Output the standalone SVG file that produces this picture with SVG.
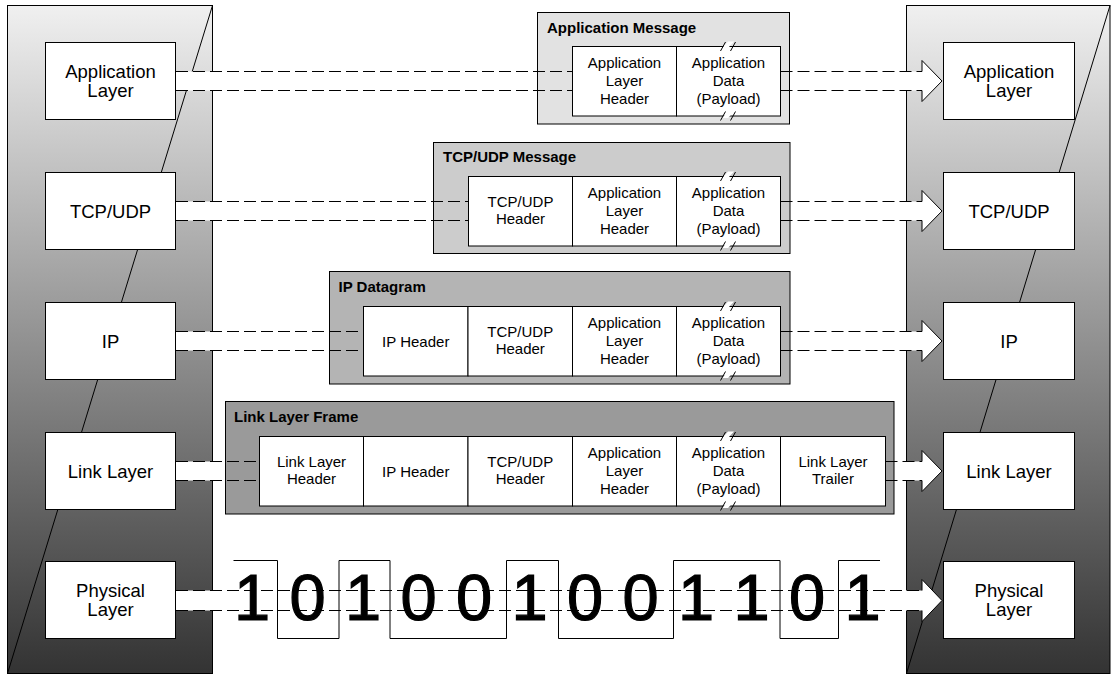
<svg xmlns="http://www.w3.org/2000/svg" width="1112" height="675" viewBox="0 0 1112 675">
  <defs>
    <linearGradient id="colGrad" x1="0" y1="0" x2="0" y2="1">
      <stop offset="0" stop-color="#f0f0f0"/>
      <stop offset="1" stop-color="#333333"/>
    </linearGradient>
    <style>
      .col{fill:url(#colGrad);stroke:#000;stroke-width:1}
      .diag{stroke:#000;stroke-width:1;fill:none}
      .box{fill:#fff;stroke:#000;stroke-width:1}
      .cell{fill:#fff;stroke:#000;stroke-width:1}
      .lbl{font-family:"Liberation Sans",Arial,sans-serif;font-size:18.5px;text-anchor:middle;fill:#000}
      .ct{font-family:"Liberation Sans",Arial,sans-serif;font-size:15px;text-anchor:middle;fill:#000}
      .ttl{font-family:"Liberation Sans",Arial,sans-serif;font-size:15px;font-weight:bold;fill:#000}
      .dash{stroke:#000;stroke-width:1;stroke-dasharray:12 5;fill:none}
      .head{fill:none;stroke:#000;stroke-width:1}
      .band{fill:#fff;stroke:none}
      .brk{stroke:#000;stroke-width:1;fill:none}
      .gap{fill:#fff;stroke:none}
      .bit{font-family:"Liberation Sans",Arial,sans-serif;font-size:65px;text-anchor:middle;fill:#000;stroke:#000;stroke-width:1.2}
      .wave{fill:none;stroke:#000;stroke-width:1}
    </style>
  </defs>

  <!-- stack columns -->
  <g id="left-stack">
    <rect class="col" x="7.5" y="5.5" width="205" height="668"/>
    <line class="diag" x1="212.5" y1="5.5" x2="7.5" y2="673.5"/>
  </g>
  <g id="right-stack">
    <rect class="col" x="906.5" y="5.5" width="203.5" height="668"/>
    <line class="diag" x1="1110" y1="5.5" x2="906.5" y2="673.5"/>
  </g>

  <!-- left layer nodes -->
  <g id="left-application">
    <rect class="box" x="45.5" y="42.5" width="130" height="77"/>
    <text class="lbl" x="110.5" y="78">Application</text>
    <text class="lbl" x="110.5" y="97">Layer</text>
  </g>
  <g id="left-tcpudp">
    <rect class="box" x="45.5" y="172.5" width="130" height="77"/>
    <text class="lbl" x="110.5" y="217.5">TCP/UDP</text>
  </g>
  <g id="left-ip">
    <rect class="box" x="45.5" y="302.5" width="130" height="77"/>
    <text class="lbl" x="110.5" y="347.5">IP</text>
  </g>
  <g id="left-link">
    <rect class="box" x="45.5" y="432.5" width="130" height="77"/>
    <text class="lbl" x="110.5" y="477.5">Link Layer</text>
  </g>
  <g id="left-physical">
    <rect class="box" x="45.5" y="561.5" width="130" height="77"/>
    <text class="lbl" x="110.5" y="597">Physical</text>
    <text class="lbl" x="110.5" y="616">Layer</text>
  </g>

  <!-- right layer nodes -->
  <g id="right-application">
    <rect class="box" x="943.5" y="42.5" width="131" height="77"/>
    <text class="lbl" x="1009" y="78">Application</text>
    <text class="lbl" x="1009" y="97">Layer</text>
  </g>
  <g id="right-tcpudp">
    <rect class="box" x="943.5" y="172.5" width="131" height="77"/>
    <text class="lbl" x="1009" y="217.5">TCP/UDP</text>
  </g>
  <g id="right-ip">
    <rect class="box" x="943.5" y="302.5" width="131" height="77"/>
    <text class="lbl" x="1009" y="347.5">IP</text>
  </g>
  <g id="right-link">
    <rect class="box" x="943.5" y="432.5" width="131" height="77"/>
    <text class="lbl" x="1009" y="477.5">Link Layer</text>
  </g>
  <g id="right-physical">
    <rect class="box" x="943.5" y="561.5" width="131" height="77"/>
    <text class="lbl" x="1009" y="597">Physical</text>
    <text class="lbl" x="1009" y="616">Layer</text>
  </g>

  <!-- Application Message -->
  <g id="application-message">
    <rect x="537.5" y="12.5" width="252" height="111.5" fill="#e2e2e2" stroke="#000"/>
    <text class="ttl" x="547" y="32.5">Application Message</text>
    <rect class="cell" x="572.5" y="46.5" width="104" height="69.5"/>
    <rect class="cell" x="676.5" y="46.5" width="104" height="69.5"/>
    <text class="ct" x="624.5" y="68">Application</text>
    <text class="ct" x="624.5" y="86">Layer</text>
    <text class="ct" x="624.5" y="104">Header</text>
    <text class="ct" x="728.5" y="68">Application</text>
    <text class="ct" x="728.5" y="86">Data</text>
    <text class="ct" x="728.5" y="104">(Payload)</text>
    <polygon class="gap" points="722,48 728,41.5 734,41.5 728,48 "/>
    <path class="brk" d="M720.5,51 L725.5,42 M730.5,51 L735.5,42"/>
    <polygon class="gap" points="722,118 728,111.5 734,111.5 728,118"/>
    <path class="brk" d="M720.5,120.5 L725.5,111.5 M730.5,120.5 L735.5,111.5"/>
  </g>

  <!-- TCP/UDP Message -->
  <g id="tcpudp-message">
    <rect x="433.5" y="142.5" width="356.5" height="111" fill="#cccccc" stroke="#000"/>
    <text class="ttl" x="443" y="162">TCP/UDP Message</text>
    <rect class="cell" x="468.5" y="176.5" width="104" height="69.5"/>
    <rect class="cell" x="572.5" y="176.5" width="104" height="69.5"/>
    <rect class="cell" x="676.5" y="176.5" width="104" height="69.5"/>
    <text class="ct" x="520.5" y="206.5">TCP/UDP</text>
    <text class="ct" x="520.5" y="224">Header</text>
    <text class="ct" x="624.5" y="198">Application</text>
    <text class="ct" x="624.5" y="216">Layer</text>
    <text class="ct" x="624.5" y="234">Header</text>
    <text class="ct" x="728.5" y="198">Application</text>
    <text class="ct" x="728.5" y="216">Data</text>
    <text class="ct" x="728.5" y="234">(Payload)</text>
    <polygon class="gap" points="722,178 728,171.5 734,171.5 728,178"/>
    <path class="brk" d="M720.5,181 L725.5,172 M730.5,181 L735.5,172"/>
    <polygon class="gap" points="722,248 728,241.5 734,241.5 728,248"/>
    <path class="brk" d="M720.5,250.5 L725.5,241.5 M730.5,250.5 L735.5,241.5"/>
  </g>

  <!-- IP Datagram -->
  <g id="ip-datagram">
    <rect x="329.5" y="271.5" width="460.5" height="112.5" fill="#b4b4b4" stroke="#000"/>
    <text class="ttl" x="338.5" y="292">IP Datagram</text>
    <rect class="cell" x="363.5" y="306.5" width="104.5" height="69.5"/>
    <rect class="cell" x="468" y="306.5" width="104.5" height="69.5"/>
    <rect class="cell" x="572.5" y="306.5" width="104" height="69.5"/>
    <rect class="cell" x="676.5" y="306.5" width="104" height="69.5"/>
    <text class="ct" x="415.75" y="346.5">IP Header</text>
    <text class="ct" x="520.25" y="336.5">TCP/UDP</text>
    <text class="ct" x="520.25" y="354">Header</text>
    <text class="ct" x="624.5" y="328">Application</text>
    <text class="ct" x="624.5" y="346">Layer</text>
    <text class="ct" x="624.5" y="364">Header</text>
    <text class="ct" x="728.5" y="328">Application</text>
    <text class="ct" x="728.5" y="346">Data</text>
    <text class="ct" x="728.5" y="364">(Payload)</text>
    <polygon class="gap" points="722,308 728,301.5 734,301.5 728,308"/>
    <path class="brk" d="M720.5,311 L725.5,302 M730.5,311 L735.5,302"/>
    <polygon class="gap" points="722,378 728,371.5 734,371.5 728,378"/>
    <path class="brk" d="M720.5,380.5 L725.5,371.5 M730.5,380.5 L735.5,371.5"/>
  </g>

  <!-- Link Layer Frame -->
  <g id="link-layer-frame">
    <rect x="225.5" y="401.5" width="668.5" height="112.5" fill="#9a9a9a" stroke="#000"/>
    <text class="ttl" x="234" y="421.5">Link Layer Frame</text>
    <rect class="cell" x="259.5" y="436.5" width="104" height="69.5"/>
    <rect class="cell" x="363.5" y="436.5" width="104.5" height="69.5"/>
    <rect class="cell" x="468" y="436.5" width="104.5" height="69.5"/>
    <rect class="cell" x="572.5" y="436.5" width="104" height="69.5"/>
    <rect class="cell" x="676.5" y="436.5" width="104" height="69.5"/>
    <rect class="cell" x="780.5" y="436.5" width="105" height="69.5"/>
    <text class="ct" x="311.5" y="466.5">Link Layer</text>
    <text class="ct" x="311.5" y="484">Header</text>
    <text class="ct" x="415.75" y="476.5">IP Header</text>
    <text class="ct" x="520.25" y="466.5">TCP/UDP</text>
    <text class="ct" x="520.25" y="484">Header</text>
    <text class="ct" x="624.5" y="458">Application</text>
    <text class="ct" x="624.5" y="476">Layer</text>
    <text class="ct" x="624.5" y="494">Header</text>
    <text class="ct" x="728.5" y="458">Application</text>
    <text class="ct" x="728.5" y="476">Data</text>
    <text class="ct" x="728.5" y="494">(Payload)</text>
    <text class="ct" x="833" y="466.5">Link Layer</text>
    <text class="ct" x="833" y="484">Trailer</text>
    <polygon class="gap" points="722,438 728,431.5 734,431.5 728,438"/>
    <path class="brk" d="M720.5,441 L725.5,432 M730.5,441 L735.5,432"/>
    <polygon class="gap" points="722,508 728,501.5 734,501.5 728,508"/>
    <path class="brk" d="M720.5,510.5 L725.5,501.5 M730.5,510.5 L735.5,501.5"/>
  </g>

  <!-- Physical bit stream -->
  <g id="bit-stream">
    <polyline class="wave" points="233.5,560.5 277.5,560.5 277.5,638.5 339,638.5 339,560.5 390,560.5 390,638.5 506.5,638.5 506.5,560.5 558.5,560.5 558.5,638.5 673.5,638.5 673.5,560.5 780,560.5 780,638.5 838.5,638.5 838.5,560.5 880,560.5"/>
    <text class="bit" x="252" y="620">1</text>
    <text class="bit" x="307.5" y="620">0</text>
    <text class="bit" x="363" y="620">1</text>
    <text class="bit" x="418.5" y="620">0</text>
    <text class="bit" x="474" y="620">0</text>
    <text class="bit" x="529.5" y="620">1</text>
    <text class="bit" x="585" y="620">0</text>
    <text class="bit" x="640.5" y="620">0</text>
    <text class="bit" x="696" y="620">1</text>
    <text class="bit" x="751.5" y="620">1</text>
    <text class="bit" x="807" y="620">0</text>
    <text class="bit" x="862.5" y="620">1</text>
  </g>

  <!-- connectors -->
  <g id="connectors">
    <!-- application -->
    <rect class="band" x="176" y="71.5" width="37.5" height="19"/>
    <polygon class="band" points="905,71.5 922,71.5 922,60.5 942,81 922,101.5 922,90.5 905,90.5"/>
    <path class="dash" d="M176,71.5 H572.5 M780.5,71.5 H922 M176,90.5 H572.5 M780.5,90.5 H922"/>
    <polyline class="head" points="922,71.5 922,60.5 942,81 922,101.5 922,90.5"/>
    <!-- tcp/udp -->
    <rect class="band" x="176" y="201.5" width="37.5" height="19"/>
    <polygon class="band" points="905,201.5 922,201.5 922,190.5 942,211 922,231.5 922,220.5 905,220.5"/>
    <path class="dash" d="M176,201.5 H468.5 M780.5,201.5 H922 M176,220.5 H468.5 M780.5,220.5 H922"/>
    <polyline class="head" points="922,201.5 922,190.5 942,211 922,231.5 922,220.5"/>
    <!-- ip -->
    <rect class="band" x="176" y="331.5" width="37.5" height="19"/>
    <polygon class="band" points="905,331.5 922,331.5 922,320.5 942,341 922,361.5 922,350.5 905,350.5"/>
    <path class="dash" d="M176,331.5 H363.5 M780.5,331.5 H922 M176,350.5 H363.5 M780.5,350.5 H922"/>
    <polyline class="head" points="922,331.5 922,320.5 942,341 922,361.5 922,350.5"/>
    <!-- link -->
    <rect class="band" x="176" y="461.5" width="37.5" height="19"/>
    <polygon class="band" points="905,461.5 922,461.5 922,450.5 942,471 922,491.5 922,480.5 905,480.5"/>
    <path class="dash" d="M176,461.5 H259.5 M885.5,461.5 H922 M176,480.5 H259.5 M885.5,480.5 H922"/>
    <polyline class="head" points="922,461.5 922,450.5 942,471 922,491.5 922,480.5"/>
    <!-- physical -->
    <rect class="band" x="176" y="590.5" width="37.5" height="20"/>
    <polygon class="band" points="905,590.5 922,590.5 922,579.5 942,600.5 922,621.5 922,610.5 905,610.5"/>
    <path class="dash" d="M176,590.5 H922 M176,610.5 H922"/>
    <polyline class="head" points="922,590.5 922,579.5 942,600.5 922,621.5 922,610.5"/>
  </g>
</svg>
